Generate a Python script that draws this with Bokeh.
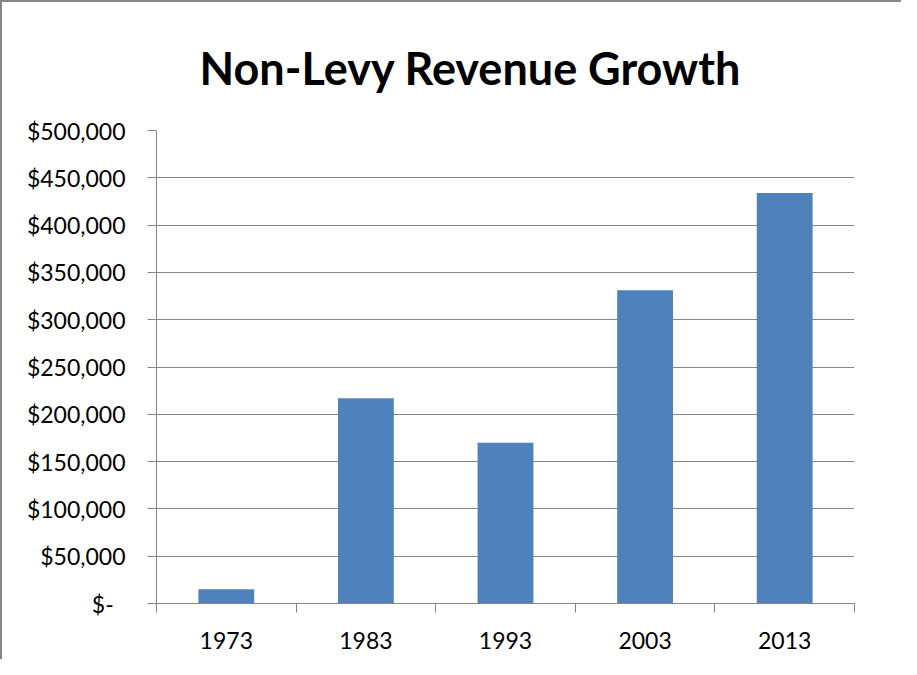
from bokeh.plotting import figure
from bokeh.models import FixedTicker, Title, ColumnDataSource
from bokeh.embed import file_html
from bokeh.resources import INLINE

title_text = "Non-Levy Revenue Growth"
years = ["1973", "1983", "1993", "2003", "2013"]
revenue = [15000, 217000, 170000, 331000, 434000]
y_ticks = [0, 50000, 100000, 150000, 200000, 250000, 300000, 350000, 400000, 450000, 500000]

xs = [i + 0.5 for i in range(len(years))]
src = ColumnDataSource(dict(x=xs, top=revenue, year=years))

FONT = "Lato"
GRAY = "#868686"

p = figure(width=901, height=659, output_backend="svg", toolbar_location=None,
           x_range=(0, len(years)), y_range=(0, 500000),
           min_border_left=154, min_border_right=49, min_border_top=126, min_border_bottom=58)
p.title = Title(text=title_text, align="left", offset=43,
                text_font=FONT, text_font_size="45px", text_font_style="bold",
                text_color="black", standoff=72)

p.vbar(x="x", top="top", width=0.4, bottom=0, source=src,
       fill_color="#4F81BD", line_color=None)

p.outline_line_color = None
p.xgrid.grid_line_color = None
p.ygrid.grid_line_color = GRAY
p.ygrid.grid_line_width = 1
p.ygrid.ticker = FixedTicker(ticks=y_ticks)

p.yaxis.ticker = FixedTicker(ticks=y_ticks)
p.yaxis.major_label_overrides = {t: ("$-\u00a0\u00a0" if t == 0 else "${:,}".format(t)) for t in y_ticks}
p.yaxis.axis_line_color = GRAY
p.yaxis.major_tick_line_color = GRAY
p.yaxis.major_tick_in = 0
p.yaxis.major_tick_out = 9
p.yaxis.minor_tick_line_color = None
p.yaxis.major_label_standoff = 22
p.yaxis.major_label_text_font = FONT
p.yaxis.major_label_text_font_size = "23px"
p.yaxis.major_label_text_color = "black"

p.xaxis.ticker = FixedTicker(ticks=xs, minor_ticks=list(range(len(years) + 1)))
p.xaxis.major_label_overrides = {x: y for x, y in zip(xs, years)}
p.xaxis.axis_line_color = GRAY
p.xaxis.major_tick_line_color = None
p.xaxis.major_tick_in = 0
p.xaxis.major_tick_out = 0
p.xaxis.minor_tick_line_color = GRAY
p.xaxis.minor_tick_in = 0
p.xaxis.minor_tick_out = 9
p.xaxis.major_label_standoff = 19
p.xaxis.major_label_text_font = FONT
p.xaxis.major_label_text_font_size = "23px"
p.xaxis.major_label_text_color = "black"

p.styles = {"border-left": "2px solid #868686", "border-top": "2px solid #868686"}

open("out.html", "w").write(file_html(p, INLINE))
